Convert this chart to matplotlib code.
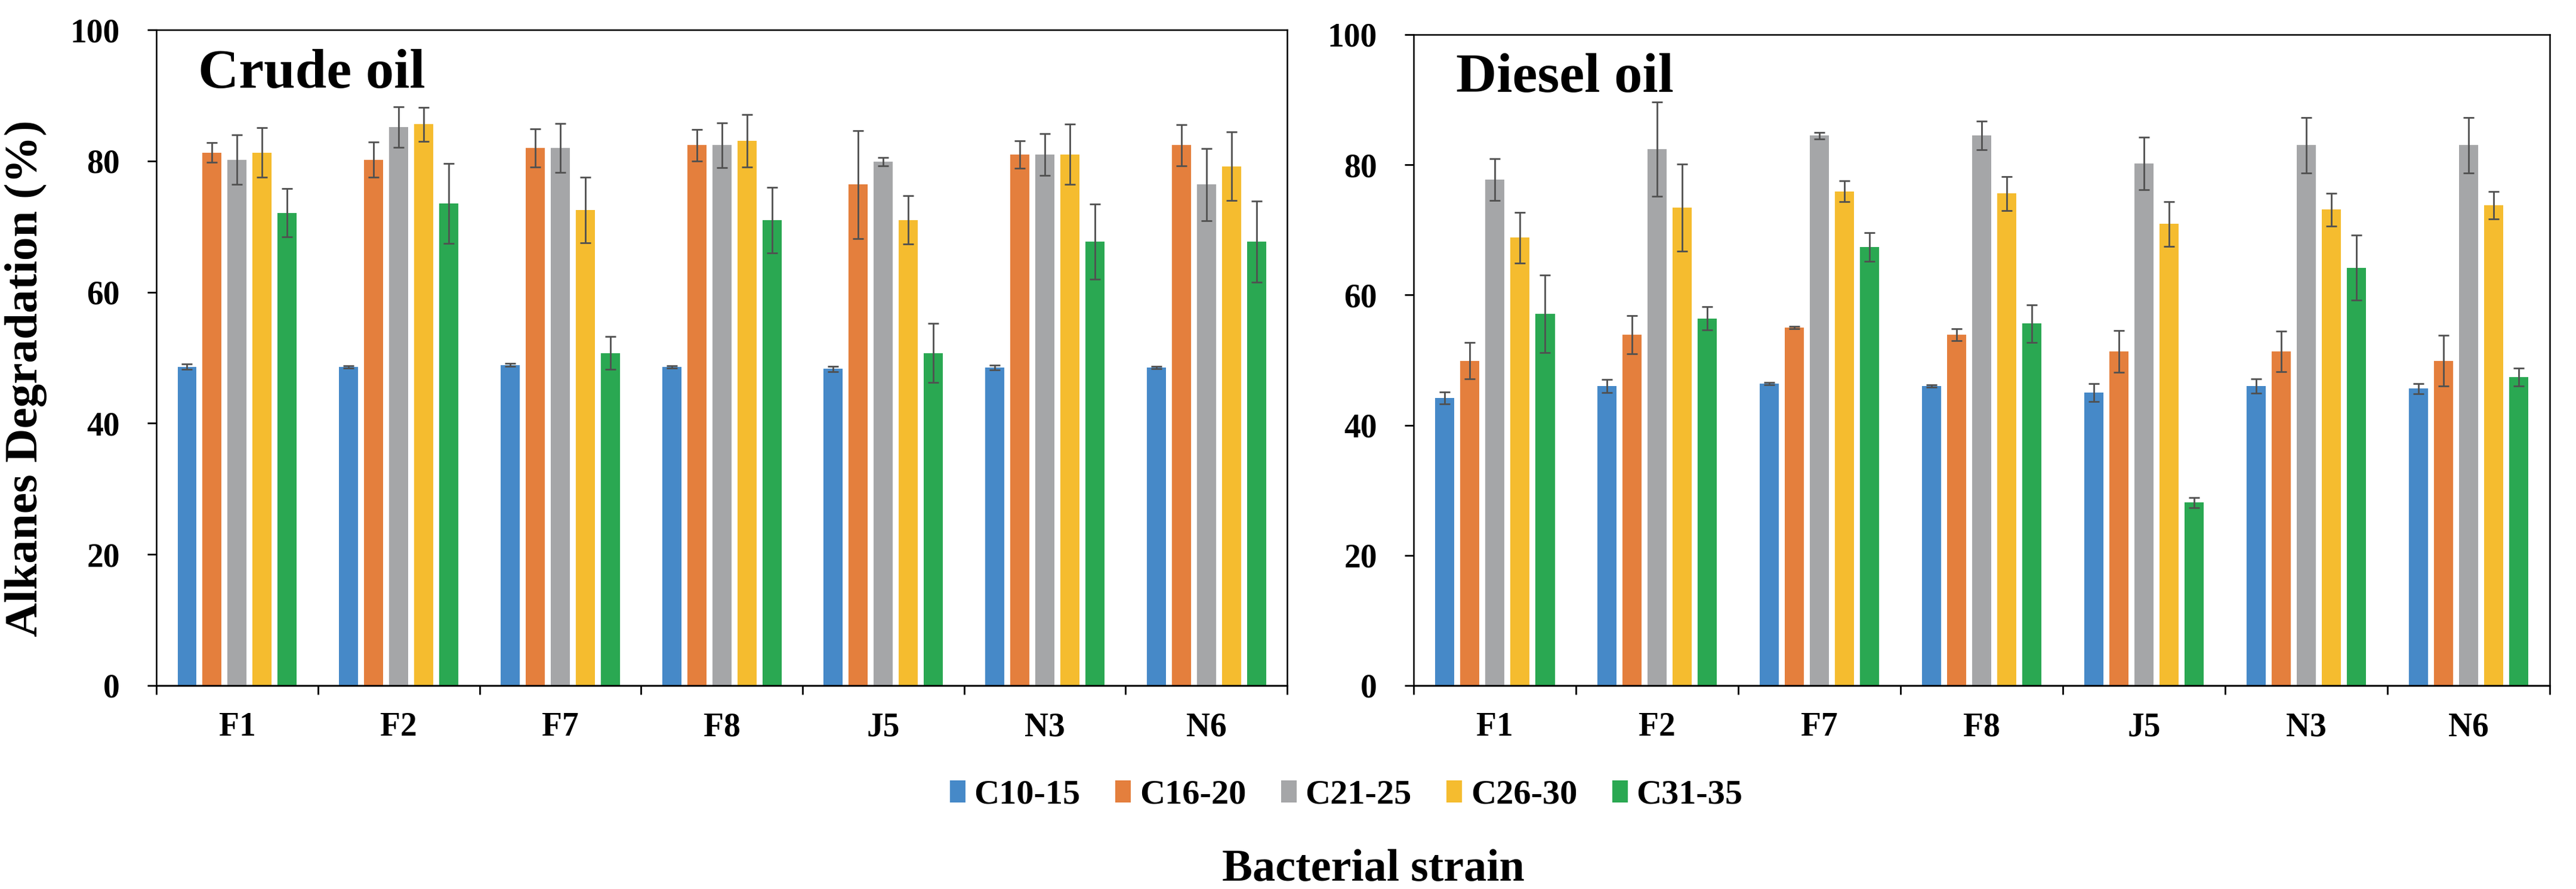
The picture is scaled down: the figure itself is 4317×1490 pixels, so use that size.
import numpy as np
import matplotlib
matplotlib.use('Agg')
import matplotlib.pyplot as plt

plt.rcParams['font.family'] = ['Liberation Serif', 'DejaVu Serif']
plt.rcParams['font.weight'] = 'bold'

strains = ['F1', 'F2', 'F7', 'F8', 'J5', 'N3', 'N6']
fractions = ['C10-15', 'C16-20', 'C21-25', 'C26-30', 'C31-35']
colors = ['#4689C8', '#E47F3D', '#A5A6A8', '#F5BC2F', '#2AA852']

# crude oil, mean and error per alkane fraction
crude_c10 = [48.6, 48.6, 48.9, 48.6, 48.3, 48.5, 48.5]
crude_c16 = [81.3, 80.2, 82.0, 82.4, 76.4, 81.0, 82.4]
crude_c21 = [80.2, 85.2, 82.0, 82.4, 79.9, 81.0, 76.4]
crude_c26 = [81.3, 85.6, 72.5, 83.1, 71.0, 81.0, 79.2]
crude_c31 = [72.1, 73.5, 50.7, 71.0, 50.7, 67.7, 67.7]
crude_c10_err = [0.4, 0.2, 0.2, 0.2, 0.4, 0.4, 0.2]
crude_c16_err = [1.5, 2.7, 2.9, 2.4, 8.2, 2.1, 3.1]
crude_c21_err = [3.8, 3.1, 3.7, 3.4, 0.6, 3.2, 5.5]
crude_c26_err = [3.8, 2.6, 5.0, 4.0, 3.7, 4.6, 5.2]
crude_c31_err = [3.7, 6.1, 2.5, 5.0, 4.5, 5.7, 6.2]

# diesel oil
diesel_c10 = [44.2, 46.0, 46.4, 46.0, 45.0, 46.0, 45.6]
diesel_c16 = [49.9, 53.9, 55.0, 53.9, 51.3, 51.3, 49.9]
diesel_c21 = [77.7, 82.4, 84.5, 84.5, 80.2, 83.0, 83.0]
diesel_c26 = [68.8, 73.4, 75.9, 75.6, 70.9, 73.1, 73.8]
diesel_c31 = [57.1, 56.4, 67.4, 55.6, 28.1, 64.2, 47.4]
diesel_c10_err = [0.9, 1.0, 0.2, 0.2, 1.4, 1.1, 0.8]
diesel_c16_err = [2.8, 2.9, 0.2, 0.9, 3.2, 3.1, 3.9]
diesel_c21_err = [3.2, 7.2, 0.5, 2.2, 4.0, 4.3, 4.3]
diesel_c26_err = [3.9, 6.7, 1.6, 2.6, 3.4, 2.5, 2.1]
diesel_c31_err = [6.0, 1.8, 2.2, 2.9, 0.8, 5.0, 1.4]

crude = [crude_c10, crude_c16, crude_c21, crude_c26, crude_c31]
crude_err = [crude_c10_err, crude_c16_err, crude_c21_err, crude_c26_err, crude_c31_err]
diesel = [diesel_c10, diesel_c16, diesel_c21, diesel_c26, diesel_c31]
diesel_err = [diesel_c10_err, diesel_c16_err, diesel_c21_err, diesel_c26_err, diesel_c31_err]

fig = plt.figure(figsize=(43.17, 14.90), dpi=100)
ax1 = fig.add_axes([0.0607, 0.2289, 0.4390, 0.7375])
ax2 = fig.add_axes([0.5488, 0.2289, 0.4410, 0.7322])

x = np.arange(len(strains)) + 0.5
pitch = 0.155
width = 0.118


def draw_panel(ax, means, errs, title):
    bars = []
    for k in range(len(fractions)):
        pos = x + (k - 2) * pitch
        b = ax.bar(pos, means[k], width, color=colors[k], label=fractions[k], zorder=2)
        ax.errorbar(pos, means[k], yerr=errs[k], fmt='none', ecolor='#505050',
                    elinewidth=2, capsize=6.5, capthick=2, zorder=3)
        bars.append(b)
    ax.set_xlim(0, len(strains))
    ax.set_ylim(0, 100)
    ax.set_yticks([0, 20, 40, 60, 80, 100])
    ax.set_xticks(x)
    ax.set_xticklabels(strains)
    ax.set_xticks(np.arange(len(strains) + 1), minor=True)
    ax.tick_params(axis='x', which='major', length=0, pad=32, labelsize=40)
    ax.tick_params(axis='x', which='minor', length=11, width=2, direction='out')
    ax.tick_params(axis='y', length=11, width=2, direction='out', pad=33, labelsize=40)
    for s in ax.spines.values():
        s.set_linewidth(1.8)
    ax.spines['bottom'].set_linewidth(2.2)
    ax.text(0.037, 0.912, title, transform=ax.transAxes, fontsize=68,
            fontweight='bold', va='baseline', ha='left')
    return bars


bars = draw_panel(ax1, crude, crude_err, 'Crude oil')
draw_panel(ax2, diesel, diesel_err, 'Diesel oil')

fig.legend(bars, fractions, loc='center', bbox_to_anchor=(0.5226, 0.1054), ncol=5,
           frameon=False, fontsize=42, handlelength=0.45, handleheight=0.6,
           handletextpad=0.25, columnspacing=1.0)

fig.text(0.00996, 0.5745, 'Alkanes Degradation (%)', rotation=90, fontsize=57,
         fontweight='bold', ha='center', va='center')
fig.text(0.533, 0.0221, 'Bacterial strain', fontsize=55, fontweight='bold',
         ha='center', va='center')

fig.savefig('out.png', dpi=100)
